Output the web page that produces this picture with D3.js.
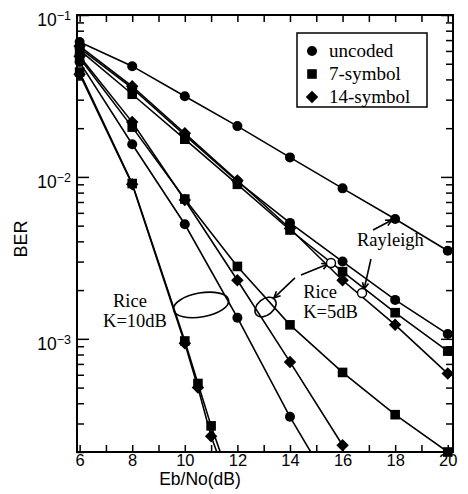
<!DOCTYPE html>
<html>
<head>
<meta charset="utf-8">
<script src="https://cdn.jsdelivr.net/npm/d3@7"></script>
<style>
  body { margin: 0; background: #fff; }
  svg { display: block; }
</style>
</head>
<body>
<svg id="chart" width="468" height="494"></svg>
<script>
// Eb/No sample points (dB)
const ebno = [6, 8, 10, 12, 14, 16, 18, 20];
const ebnoRice5Sym14 = [6, 8, 10, 12, 14, 16];
const ebnoRice10Uncoded = [6, 8, 10, 12, 14, 16];
const ebnoRice10Coded = [6, 8, 10, 10.5, 11, 11.5];

// BER
const rayleighUncoded = [0.0681, 0.0483, 0.0315, 0.0206, 0.0132, 0.0085, 0.0055, 0.0035];
const rayleighSym7 = [0.0607, 0.0324, 0.0171, 0.0090, 0.0047, 0.0026, 0.00145, 0.00084];
const rayleighSym14 = [0.0643, 0.0363, 0.0186, 0.0095, 0.0048, 0.0023, 0.00122, 0.00061];
const rice5Uncoded = [0.0625, 0.0353, 0.0181, 0.0094, 0.0052, 0.0030, 0.00174, 0.00107];
const rice5Sym7 = [0.0542, 0.0203, 0.0073, 0.0028, 0.00122, 0.00062, 0.00034, 0.00020];
const rice5Sym14 = [0.0557, 0.0218, 0.0072, 0.0023, 0.00072, 0.00022];
const rice10Uncoded = [0.0512, 0.0159, 0.0051, 0.00135, 0.00033, 0.000093];
const rice10Sym7 = [0.0444, 0.0091, 0.00097, 0.00053, 0.00029, 0.00017];
const rice10Sym14 = [0.0431, 0.0090, 0.00094, 0.00050, 0.00025, 0.00015];

const xTicks = [6, 7, 8, 9, 10, 11, 12, 13, 14, 15, 16, 17, 18, 19, 20];
const yLabels = [[1e-1, '\u22121'], [1e-2, '\u22122'], [1e-3, '\u22123']];

const legendLabels = ['uncoded', '7-symbol', '14-symbol'];
const legendMarkers = ['circle', 'square', 'diamond'];

// annotation anchors, in data units
const noteTexts = [
    {text: 'Rice', x: 7.27, y: 0.00157},
    {text: 'K=10dB', x: 6.89, y: 0.00118},
    {text: 'Rice', x: 14.5, y: 0.00179},
    {text: 'K=5dB', x: 14.5, y: 0.001344},
    {text: 'Rayleigh', x: 16.55, y: 0.00374}
];
const noteEllipses = [
    {x: 10.62, y: 0.00162, rx: 28, ry: 12, rot: -10},
    {x: 13.07, y: 0.00157, rx: 12, ry: 8, rot: -40}
];
const noteArrows = [
    {x1: 17.16, y1: 0.0047, x2: 17.88, y2: 0.00542},
    {x1: 17.08, y1: 0.00311, x2: 16.82, y2: 0.00203},
    {x1: 14.19, y1: 0.00238, x2: 13.39, y2: 0.00179},
    {x1: 14.42, y1: 0.00248, x2: 15.45, y2: 0.0029}
];
const noteRings = [
    {x: 16.74, y: 0.00192},
    {x: 15.56, y: 0.00294}
];

const series = [
    {xs: ebno, ys: rayleighUncoded, marker: 'circle'},
    {xs: ebno, ys: rayleighSym7, marker: 'square'},
    {xs: ebno, ys: rayleighSym14, marker: 'diamond'},
    {xs: ebno, ys: rice5Uncoded, marker: 'circle'},
    {xs: ebno, ys: rice5Sym7, marker: 'square'},
    {xs: ebnoRice5Sym14, ys: rice5Sym14, marker: 'diamond'},
    {xs: ebnoRice10Uncoded, ys: rice10Uncoded, marker: 'circle'},
    {xs: ebnoRice10Coded, ys: rice10Sym7, marker: 'square'},
    {xs: ebnoRice10Coded, ys: rice10Sym14, marker: 'diamond'}
];

const plotLeft = 77, plotRight = 453, plotTop = 15, plotBottom = 452;
const sans = "'Liberation Sans', Arial, sans-serif";
const serif = "'Liberation Serif', 'Times New Roman', serif";

let svg = d3.select('#chart');
svg.append('rect').attr('width', 468).attr('height', 494).attr('fill', '#fff');

let x = d3.scaleLinear().domain([5.9, 20.2]).range([plotLeft, plotRight]);
let y = d3.scaleLog().domain([2e-4, 1e-1]).range([plotBottom, plotTop]);

svg.append('clipPath').attr('id', 'plot-clip')
    .append('rect')
    .attr('x', plotLeft).attr('y', plotTop)
    .attr('width', plotRight - plotLeft).attr('height', plotBottom - plotTop);

function drawMarker(g, type, cx, cy) {
    if (type === 'circle') {
        g.append('circle').attr('cx', cx).attr('cy', cy).attr('r', 5).attr('fill', '#000');
    } else if (type === 'square') {
        g.append('path')
            .attr('d', d3.symbol(d3.symbolSquare, 92)())
            .attr('transform', `translate(${cx},${cy})`)
            .attr('fill', '#000');
    } else {
        g.append('path')
            .attr('d', d3.symbol(d3.symbolSquare, 78)())
            .attr('transform', `translate(${cx},${cy}) rotate(45)`)
            .attr('fill', '#000');
    }
}

// curves
let line = d3.line()
    .x(d => x(d[0]))
    .y(d => y(d[1]));

let curves = svg.append('g').attr('clip-path', 'url(#plot-clip)');
series.forEach(s => {
    let pts = s.xs.map((v, i) => [v, s.ys[i]]);
    curves.append('path')
        .attr('d', line(pts))
        .attr('fill', 'none')
        .attr('stroke', '#000')
        .attr('stroke-width', 1.6)
});

let marks = svg.append('g');
series.forEach(s => {
    s.xs.forEach((v, i) => {
        if (s.ys[i] < y.domain()[0]) return;
        drawMarker(marks, s.marker, x(v), y(s.ys[i]));
    })
});

// axes, ticks point inward on all four sides
let isDecade = v => Math.abs(Math.log10(v) - Math.round(Math.log10(v))) < 1e-9;

let gBottom = svg.append('g')
    .attr('transform', `translate(0,${plotBottom})`)
    .call(d3.axisBottom(x).tickValues(xTicks).tickSize(-7).tickPadding(2)
        .tickFormat(d => d % 2 === 0 ? d : ''));
let gTop = svg.append('g')
    .attr('transform', `translate(0,${plotTop})`)
    .call(d3.axisTop(x).tickValues(xTicks).tickSize(-7).tickFormat(''));
let gLeft = svg.append('g')
    .attr('transform', `translate(${plotLeft},0)`)
    .call(d3.axisLeft(y).tickValues(y.ticks()).tickSize(-7).tickFormat(''));
let gRight = svg.append('g')
    .attr('transform', `translate(${plotRight},0)`)
    .call(d3.axisRight(y).tickValues(y.ticks()).tickSize(-7).tickFormat(''));

gLeft.selectAll('.tick line').filter(d => isDecade(d)).attr('x2', 12);
gRight.selectAll('.tick line').filter(d => isDecade(d)).attr('x2', -12);

[gBottom, gTop, gLeft, gRight].forEach(g => {
    g.select('.domain').remove();
    g.selectAll('.tick line').attr('stroke', '#000').attr('stroke-width', 1.5);
});
gBottom.selectAll('.tick text')
    .attr('font-family', sans)
    .attr('font-size', 16.5)
    .attr('fill', '#000');

svg.append('rect')
    .attr('x', plotLeft).attr('y', plotTop)
    .attr('width', plotRight - plotLeft).attr('height', plotBottom - plotTop)
    .attr('fill', 'none')
    .attr('stroke', '#000')
    .attr('stroke-width', 2);

// y labels as 10^n
yLabels.forEach(([v, exp]) => {
    let t = svg.append('text')
        .attr('x', plotLeft - 6)
        .attr('y', y(v) + 11)
        .attr('text-anchor', 'end')
        .attr('font-family', sans)
        .attr('font-size', 17.5);
    t.append('tspan').text('10');
    t.append('tspan').attr('dy', -6).attr('font-size', 12.5).text(exp);
});

svg.append('text')
    .attr('transform', 'translate(21,239) rotate(-90)')
    .attr('text-anchor', 'middle')
    .attr('dominant-baseline', 'central')
    .attr('font-family', sans)
    .attr('font-size', 18)
    .text('BER');

svg.append('text')
    .attr('x', 200)
    .attr('y', 485)
    .attr('text-anchor', 'middle')
    .attr('font-family', sans)
    .attr('font-size', 17.5)
    .text('Eb/No(dB)');

// legend
let legend = svg.append('g');
legend.append('rect')
    .attr('x', 297).attr('y', 33)
    .attr('width', 130).attr('height', 74)
    .attr('fill', '#fff')
    .attr('stroke', '#000')
    .attr('stroke-width', 1.5);
legendLabels.forEach((label, i) => {
    let cy = 51 + i * 23;
    drawMarker(legend, legendMarkers[i], 312, cy);
    legend.append('text')
        .attr('x', 329)
        .attr('y', cy + 6)
        .attr('font-family', serif)
        .attr('font-size', 19)
        .text(label);
});

// annotations
let notes = svg.append('g');
noteEllipses.forEach(e => {
    notes.append('ellipse')
        .attr('transform', `translate(${x(e.x)},${y(e.y)}) rotate(${e.rot})`)
        .attr('rx', e.rx).attr('ry', e.ry)
        .attr('fill', 'none')
        .attr('stroke', '#000')
        .attr('stroke-width', 1.6)
});
noteArrows.forEach(a => {
    let x1 = x(a.x1), y1 = y(a.y1), x2 = x(a.x2), y2 = y(a.y2);
    let ang = Math.atan2(y2 - y1, x2 - x1);
    let head = 7, spread = 0.45;
    notes.append('line')
        .attr('x1', x1).attr('y1', y1).attr('x2', x2).attr('y2', y2)
        .attr('stroke', '#000').attr('stroke-width', 1.6);
    notes.append('path')
        .attr('d', `M${x2 - head * Math.cos(ang - spread)},${y2 - head * Math.sin(ang - spread)}` +
            `L${x2},${y2}` +
            `L${x2 - head * Math.cos(ang + spread)},${y2 - head * Math.sin(ang + spread)}`)
        .attr('fill', 'none')
        .attr('stroke', '#000')
        .attr('stroke-width', 1.6);
});
noteRings.forEach(r => {
    notes.append('circle')
        .attr('cx', x(r.x)).attr('cy', y(r.y)).attr('r', 4.5)
        .attr('fill', '#fff')
        .attr('stroke', '#000')
        .attr('stroke-width', 1.4);
});
noteTexts.forEach(n => {
    notes.append('text')
        .attr('x', x(n.x))
        .attr('y', y(n.y))
        .attr('font-family', serif)
        .attr('font-size', 18.5)
        .text(n.text);
});
</script>
</body>
</html>
